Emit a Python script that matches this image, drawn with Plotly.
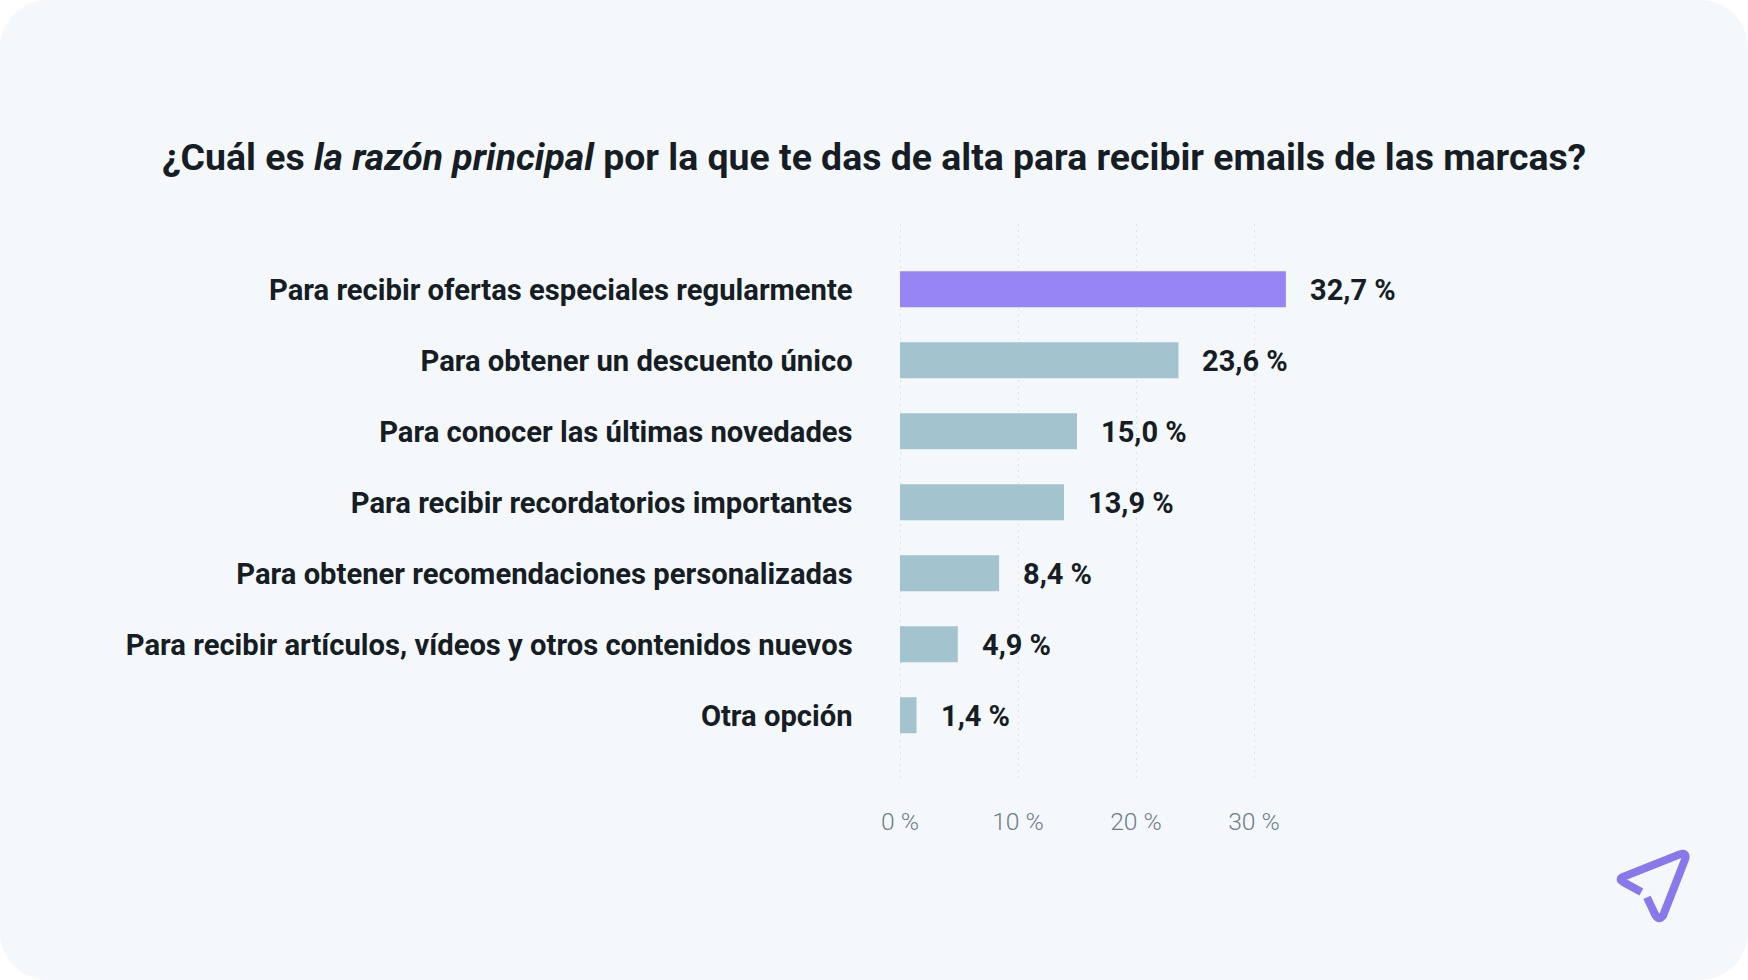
import plotly.graph_objects as go

W, H = 1748, 980
categories = ["Para recibir ofertas especiales regularmente", "Para obtener un descuento único",
              "Para conocer las últimas novedades", "Para recibir recordatorios importantes",
              "Para obtener recomendaciones personalizadas", "Para recibir artículos, vídeos y otros contenidos nuevos",
              "Otra opción"]
values = [32.7, 23.6, 15.0, 13.9, 8.4, 4.9, 1.4]
tick_vals = [0, 10, 20, 30]
tick_text = ["0 %", "10 %", "20 %", "30 %"]
bar_colors = ["#9785F5"] + ["#A3C4CF"] * 6
TEXT = "#161D24"

def px(x): return x / W
def py(y): return 1 - y / H

def rounded(r):
    p = lambda x, y: f"{px(x)},{py(y)}"
    k = r * 0.448
    return (f"M {p(r,0)} L {p(W-r,0)} C {p(W-k,0)} {p(W,k)} {p(W,r)} L {p(W,H-r)} C {p(W,H-k)} {p(W-k,H)} {p(W-r,H)} "
            f"L {p(r,H)} C {p(k,H)} {p(0,H-k)} {p(0,H-r)} L {p(0,r)} C {p(0,k)} {p(k,0)} {p(r,0)} Z")

def logo():
    z = lambda x, y: f"{px(1500+x/3)},{py(800+y/3)}"
    return (f"M {z(424,276)} L {z(368,245)} Q {z(356,238)} {z(368,231)} L {z(540,163)} Q {z(560,157)} {z(556,176)} "
            f"L {z(490,345)} Q {z(478,364)} {z(466,345)} L {z(441,292)}")

fig = go.Figure(go.Bar(x=values, y=categories, orientation="h", marker=dict(color=bar_colors, line_width=0),
                       width=0.507, hoverinfo="skip"))

annotations = [dict(x=v, y=c, xref="x", yref="y", xanchor="left", xshift=22, yshift=-1, showarrow=False,
                    text=f"{v:.1f} %".replace(".", ","), font=dict(family="Roboto", size=29, color=TEXT, weight=700))
               for v, c in zip(values, categories)]
annotations.append(dict(x=874 / W, y=py(157), xref="paper", yref="paper", showarrow=False, xanchor="center", yanchor="middle",
                        text="¿Cuál es <i>la razón principal</i> por la que te das de alta para recibir emails de las marcas?",
                        font=dict(family="Roboto", size=37.4, color=TEXT, weight=700)))

fig.update_layout(
    width=W, height=H, margin=dict(l=0, r=0, t=0, b=0, autoexpand=False), paper_bgcolor="#FFFFFF", plot_bgcolor="rgba(0,0,0,0)",
    showlegend=False, annotations=annotations,
    shapes=[dict(type="path", xref="paper", yref="paper", path=rounded(48), fillcolor="#F4F8FB", line_width=0, layer="below"),
            dict(type="path", xref="paper", yref="paper", path=logo(), line=dict(color="#8878EC", width=8), fillcolor="rgba(0,0,0,0)")],
    xaxis=dict(domain=[px(900 - 2.36), px(1372)], range=[-0.2, 40], tickvals=tick_vals, ticktext=tick_text, automargin=False,
               showgrid=True, gridcolor="#DDE2E6", griddash="2px,4px", gridwidth=1, zeroline=False, showline=False,
               ticks="", ticklabelstandoff=25, tickfont=dict(family="Roboto", size=24.7, color="#6E7E8B", weight=300)),
    yaxis=dict(domain=[py(779), py(224)], range=[6.897, -0.92], type="category", categoryorder="array", categoryarray=categories,
               automargin=False, showgrid=False, zeroline=False, showline=False, ticks="", ticklabelstandoff=44,
               tickfont=dict(family="Roboto", size=29.2, color=TEXT, weight=700)),
)
fig.write_html("out.html", config={"displayModeBar": False},
               post_script="document.body.style.margin='0';document.documentElement.style.overflow='hidden';")
